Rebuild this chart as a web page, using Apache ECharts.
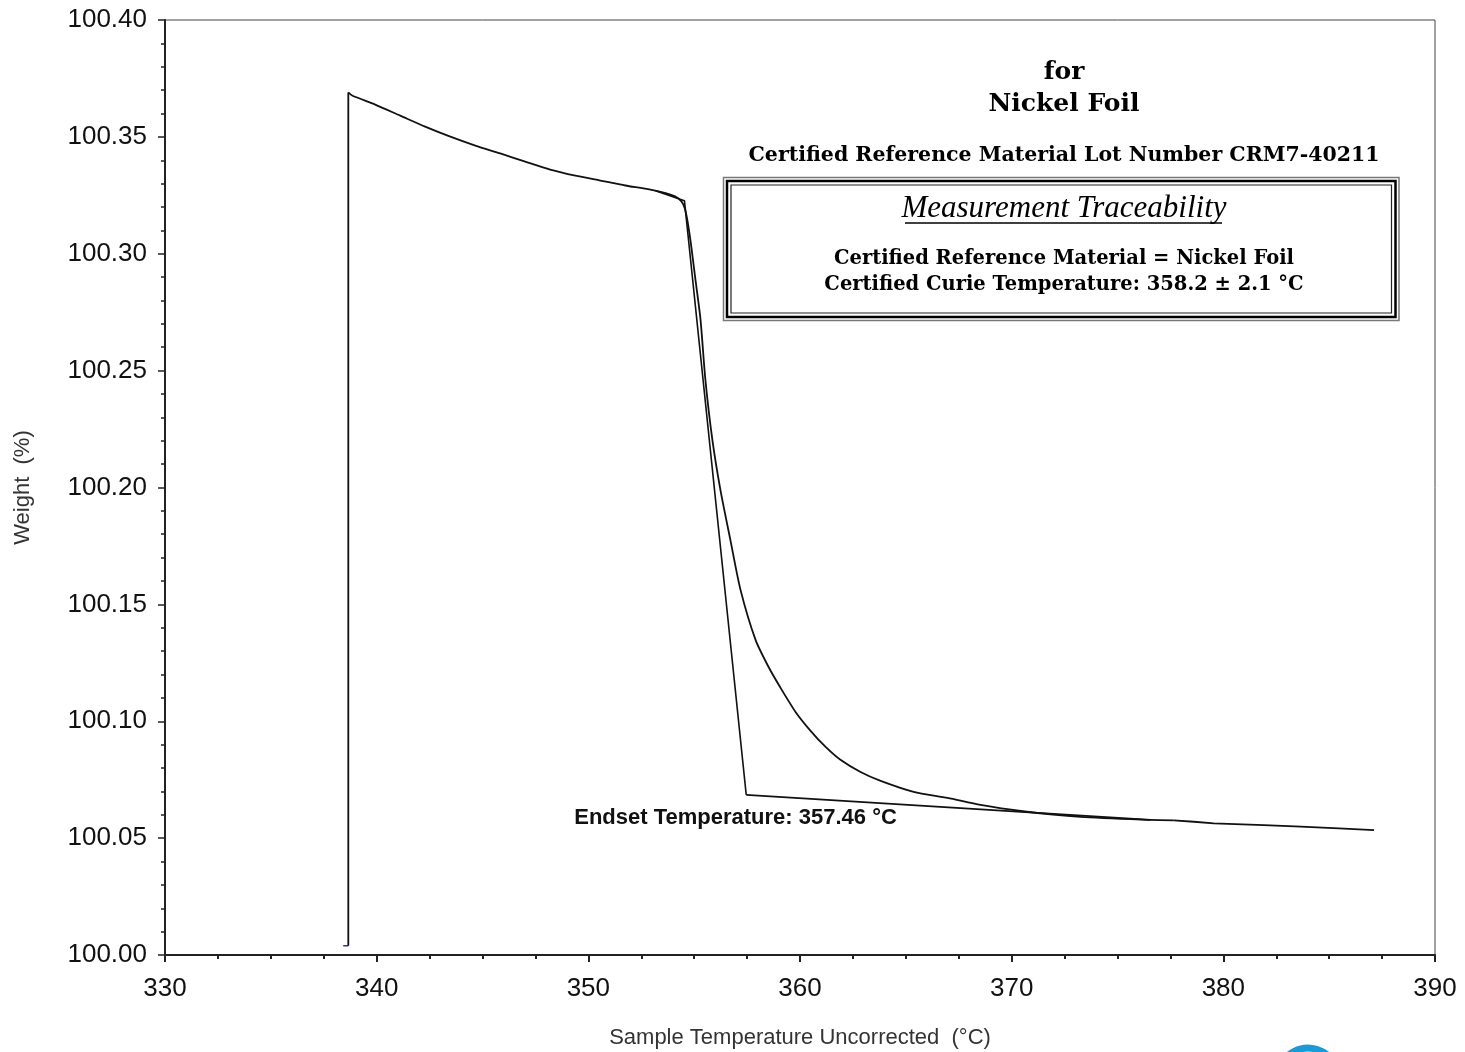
<!DOCTYPE html>
<html>
<head>
<meta charset="utf-8">
<script src="https://cdn.jsdelivr.net/npm/echarts@6/dist/echarts.min.js"></script>
<style>
  html, body { margin: 0; padding: 0; background: #fff; }
  #main { width: 1465px; height: 1052px; }
</style>
</head>
<body>
<div id="main"></div>
<script>
// TGA curve of nickel foil (temperature °C, weight %)
var startSegment = [[338.42, 100.004], [338.66, 100.004]];
var riseSegment = [[338.66, 100.004], [338.66, 100.369]];
var weightCurve = [
  [338.66, 100.369], [338.84, 100.3677], [339.93, 100.3638],
  [341.11, 100.3591], [342.29, 100.3544], [343.48, 100.3501], [344.66, 100.3463],
  [345.84, 100.3429], [347.02, 100.3394], [348.20, 100.3360], [349.39, 100.3334],
  [350.57, 100.3313], [351.75, 100.3292], [352.93, 100.3274], [353.88, 100.3253],
  [354.26, 100.3236], [354.49, 100.3210], [354.63, 100.3167], [354.82, 100.3060],
  [355.06, 100.2889], [355.30, 100.2718], [355.53, 100.2461], [355.86, 100.2204],
  [356.24, 100.1990], [356.71, 100.1776], [357.19, 100.1562], [357.90, 100.1348],
  [358.51, 100.1233], [359.08, 100.1143], [359.79, 100.1040], [360.50, 100.0959],
  [361.21, 100.0890], [361.91, 100.0835], [362.86, 100.0783], [363.81, 100.0745],
  [365.37, 100.0698], [366.97, 100.0672], [368.53, 100.0642], [370.43, 100.0616],
  [373.26, 100.0591], [376.57, 100.0578], [377.66, 100.0576]
];
// the logger's resolution gives small steps at the end
var tailSteps = [
  [377.66, 100.0576], [377.66, 100.0570],
  [378.61, 100.0570], [378.61, 100.0563], [379.55, 100.0563], [379.55, 100.0556],
  [381.91, 100.0556], [381.91, 100.0549], [383.66, 100.0549], [383.66, 100.0542],
  [385.46, 100.0542], [385.46, 100.0534], [387.12, 100.0534]
];
// tangent construction for the endset
var onsetTangent = [[353.17, 100.3270], [354.54, 100.3227], [357.46, 100.0685]];
var endBaseline = [[357.46, 100.0685], [376.57, 100.0578]];
var endsetLabel = 'Endset Temperature: 357.46 °C';

var yTicks = [100.00, 100.05, 100.10, 100.15, 100.20, 100.25, 100.30, 100.35, 100.40];
var xTicks = [330, 340, 350, 360, 370, 380, 390];

var myChart = echarts.init(document.getElementById('main'));

var serif = '"DejaVu Serif", "Liberation Serif", serif';
var black = { color: '#111', width: 1.8 };

myChart.setOption({
  animation: false,
  backgroundColor: '#fff',
  grid: {
    left: 165, right: 30, top: 20, bottom: 97,
    containLabel: false, outerBoundsMode: 'none',
    show: true, borderColor: '#444', borderWidth: 1
  },
  xAxis: {
    type: 'value',
    min: xTicks[0], max: xTicks[xTicks.length - 1], interval: 10,
    name: 'Sample Temperature Uncorrected  (°C)',
    nameLocation: 'middle', nameGap: 72,
    nameTextStyle: { fontFamily: 'Liberation Sans', fontSize: 22, color: '#333' },
    axisLine: { lineStyle: { color: '#222', width: 2 } },
    axisTick: { length: 7, lineStyle: { color: '#222', width: 2 } },
    minorTick: { show: true, splitNumber: 4, length: 4, lineStyle: { color: '#222', width: 2 } },
    splitLine: { show: false },
    axisLabel: { fontFamily: 'Liberation Sans', fontSize: 26, color: '#111', margin: 21 }
  },
  yAxis: {
    type: 'value',
    min: yTicks[0], max: yTicks[yTicks.length - 1], interval: 0.05,
    name: 'Weight  (%)',
    nameLocation: 'middle', nameGap: 131,
    nameTextStyle: { fontFamily: 'Liberation Sans', fontSize: 22, color: '#333' },
    axisLine: { lineStyle: { color: '#222', width: 2 } },
    axisTick: { length: 7, lineStyle: { color: '#222', width: 1.5 } },
    minorTick: { show: true, splitNumber: 5, length: 4, lineStyle: { color: '#222', width: 1.5 } },
    splitLine: { show: false },
    axisLabel: {
      fontFamily: 'Liberation Sans', fontSize: 26, color: '#111', margin: 18,
      formatter: function (v) { return v.toFixed(2); }
    }
  },
  series: [
    { type: 'line', data: startSegment, showSymbol: false, lineStyle: { color: '#3333bb', width: 1.5 } },
    { type: 'line', data: riseSegment, showSymbol: false, lineStyle: black },
    { type: 'line', data: weightCurve, showSymbol: false, smooth: 0.25, lineStyle: black },
    { type: 'line', data: tailSteps, showSymbol: false, lineStyle: black },
    { type: 'line', data: onsetTangent, showSymbol: false, lineStyle: { color: '#111', width: 1.6 } },
    { type: 'line', data: endBaseline, showSymbol: false, lineStyle: { color: '#111', width: 1.6 } }
  ]
});

var endPx = myChart.convertToPixel({ gridIndex: 0 }, endBaseline[0]);

myChart.setOption({
  graphic: [
    { type: 'text', style: { text: 'for', x: 1064, y: 72, align: 'center', verticalAlign: 'middle', font: 'bold 25px ' + serif, fill: '#000' } },
    { type: 'text', style: { text: 'Nickel Foil', x: 1064, y: 104, align: 'center', verticalAlign: 'middle', font: 'bold 25px ' + serif, fill: '#000' } },
    { type: 'text', style: { text: 'Certified Reference Material Lot Number CRM7-40211', x: 1064, y: 156, align: 'center', verticalAlign: 'middle', font: 'bold 20.5px ' + serif, fill: '#000' } },
    { type: 'rect', shape: { x: 723.5, y: 177.5, width: 675.5, height: 143 }, style: { fill: 'none', stroke: '#777', lineWidth: 1.5 } },
    { type: 'rect', shape: { x: 727, y: 181, width: 668.5, height: 136 }, style: { fill: 'none', stroke: '#000', lineWidth: 2.5 } },
    { type: 'rect', shape: { x: 731, y: 185, width: 660.5, height: 128 }, style: { fill: 'none', stroke: '#222', lineWidth: 1.2 } },
    { type: 'text', style: { text: 'Measurement Traceability', x: 1064, y: 209, align: 'center', verticalAlign: 'middle', font: 'italic 31px "Liberation Serif", serif', fill: '#000' } },
    { type: 'line', shape: { x1: 905, y1: 223, x2: 1222, y2: 223 }, style: { stroke: '#000', lineWidth: 1.3 } },
    { type: 'text', style: { text: 'Certified Reference Material = Nickel Foil', x: 1064, y: 259, align: 'center', verticalAlign: 'middle', font: 'bold 19.5px ' + serif, fill: '#000' } },
    { type: 'text', style: { text: 'Certified Curie Temperature: 358.2 ± 2.1 °C', x: 1064, y: 285, align: 'center', verticalAlign: 'middle', font: 'bold 19.5px ' + serif, fill: '#000' } },
    { type: 'text', style: { text: endsetLabel, x: endPx[0] - 172, y: endPx[1] + 23, align: 'left', verticalAlign: 'middle', font: 'bold 22px "Liberation Sans", sans-serif', fill: '#111' } },
    { type: 'arc', shape: { cx: 1308, cy: 1078, r: 30, startAngle: Math.PI * 1.1, endAngle: Math.PI * 1.95 }, style: { stroke: '#1a9ad6', lineWidth: 7, fill: 'none' } }
  ]
});
</script>
</body>
</html>
